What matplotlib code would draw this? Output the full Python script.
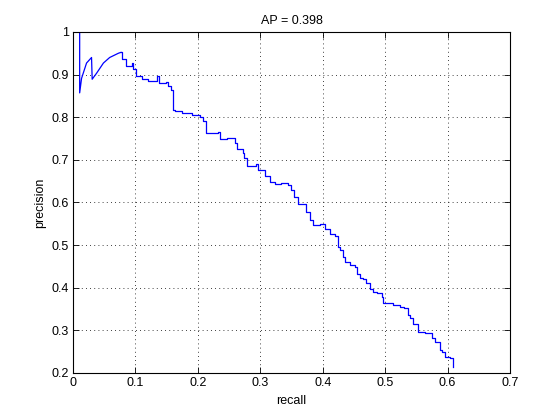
import numpy as np
import matplotlib
matplotlib.use('Agg')
import matplotlib.pyplot as plt

# precision / recall
recall = [
    0.011, 0.011, 0.014, 0.022, 0.030, 0.031, 0.038, 0.049, 0.059, 0.073,
    0.077, 0.078, 0.084, 0.085, 0.094, 0.096, 0.101, 0.110, 0.120, 0.134,
    0.138, 0.149, 0.153, 0.157, 0.160, 0.163, 0.175, 0.190, 0.204, 0.209,
    0.213, 0.228, 0.233, 0.236, 0.246, 0.260, 0.263, 0.272, 0.274, 0.279,
    0.294, 0.297, 0.308, 0.316, 0.324, 0.334, 0.345, 0.350, 0.354, 0.361,
    0.369, 0.374, 0.380, 0.385, 0.396, 0.404, 0.412, 0.420, 0.424, 0.428,
    0.432, 0.436, 0.444, 0.452, 0.455, 0.460, 0.464, 0.470, 0.476, 0.481,
    0.487, 0.495, 0.497, 0.503, 0.513, 0.524, 0.530, 0.536, 0.540, 0.545,
    0.553, 0.564, 0.575, 0.580, 0.587, 0.591, 0.596, 0.603, 0.608,
]
precision = [
    1.000, 0.857, 0.891, 0.927, 0.940, 0.889, 0.903, 0.927, 0.940, 0.950,
    0.952, 0.936, 0.936, 0.919, 0.927, 0.912, 0.897, 0.890, 0.885, 0.897,
    0.880, 0.883, 0.872, 0.864, 0.817, 0.815, 0.810, 0.806, 0.800, 0.790,
    0.764, 0.764, 0.766, 0.748, 0.752, 0.739, 0.725, 0.715, 0.704, 0.685,
    0.690, 0.676, 0.662, 0.649, 0.643, 0.646, 0.641, 0.629, 0.612, 0.596,
    0.596, 0.578, 0.559, 0.547, 0.549, 0.537, 0.526, 0.521, 0.496, 0.488,
    0.473, 0.461, 0.453, 0.449, 0.432, 0.423, 0.421, 0.410, 0.398, 0.390,
    0.387, 0.379, 0.365, 0.363, 0.359, 0.355, 0.352, 0.336, 0.328, 0.315,
    0.296, 0.293, 0.283, 0.273, 0.255, 0.250, 0.238, 0.234, 0.214,
]
ap = 0.398
n_smooth = 11  # first part of the curve is smooth, rest is a staircase

plt.rcParams['font.family'] = ['Liberation Sans', 'DejaVu Sans']
plt.rcParams['font.size'] = 9

fig = plt.figure(figsize=(5.6, 4.2), dpi=100)
ax = fig.add_axes([0.13, 0.112, 0.781, 0.812])

ax.plot(recall[:n_smooth], precision[:n_smooth], color='#0000ff', linewidth=0.9)
ax.plot(recall[n_smooth - 1:], precision[n_smooth - 1:], color='#0000ff',
        linewidth=0.9, drawstyle='steps-post')

ax.set_xlim(0, 0.7)
ax.set_ylim(0.2, 1.0)
ax.set_xticks(np.arange(0, 0.71, 0.1))
ax.set_yticks(np.arange(0.2, 1.01, 0.1))
ax.set_xticklabels(['0', '0.1', '0.2', '0.3', '0.4', '0.5', '0.6', '0.7'])
ax.set_yticklabels(['0.2', '0.3', '0.4', '0.5', '0.6', '0.7', '0.8', '0.9', '1'])
ax.tick_params(direction='in', top=True, right=True, length=4, width=0.6, pad=3)
ax.grid(True, linestyle=(0, (1, 4)), color='black', linewidth=0.6)
for s in ax.spines.values():
    s.set_linewidth(0.8)

ax.set_xlabel('recall')
ax.set_ylabel('precision')
ax.set_title('AP = %.3f' % ap, fontsize=9, pad=6)

fig.savefig('out.png', dpi=100)
